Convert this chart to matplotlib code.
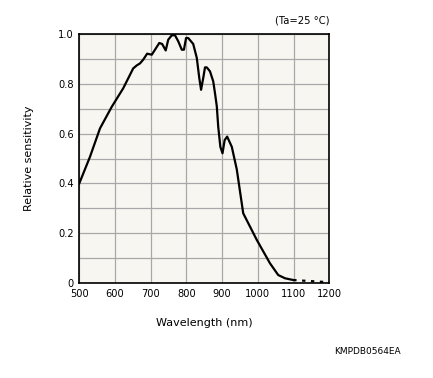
import numpy as np
import matplotlib
matplotlib.use("Agg")
import matplotlib.pyplot as plt

# spectral response (nm, relative sensitivity)
wavelength = [500, 530, 558, 591, 623, 637, 651, 661, 670, 679, 690, 703, 712,
              724, 732, 742, 749, 759, 768, 777, 787, 793, 799, 805, 819, 829,
              836, 841, 847, 852, 857, 866, 875, 880, 885, 889, 895, 901, 907,
              914, 927, 941, 959, 997, 1034, 1057, 1076, 1099]
sensitivity = [0.40, 0.507, 0.621, 0.708, 0.782, 0.822, 0.862, 0.874, 0.882,
               0.897, 0.921, 0.917, 0.937, 0.964, 0.960, 0.934, 0.977, 0.995,
               0.995, 0.971, 0.937, 0.937, 0.984, 0.984, 0.960, 0.904, 0.823,
               0.776, 0.823, 0.866, 0.866, 0.850, 0.81, 0.762, 0.71, 0.628,
               0.547, 0.521, 0.574, 0.588, 0.547, 0.456, 0.28, 0.173, 0.079,
               0.032, 0.019, 0.012]
tail_wl = [1099, 1200]
tail_val = [0.012, 0.003]

xticks = [500, 600, 700, 800, 900, 1000, 1100, 1200]
yticks = [0, 0.2, 0.4, 0.6, 0.8, 1.0]
ytick_labels = ["0", "0.2", "0.4", "0.6", "0.8", "1.0"]

fig = plt.figure(figsize=(4.33, 3.78), dpi=100)
ax = fig.add_axes([0.1831, 0.2513, 0.5774, 0.6587])
ax.set_facecolor("#f7f6f0")

ax.plot(wavelength, sensitivity, color="black", lw=1.6, solid_joinstyle="round")
ax.plot(tail_wl, tail_val, color="black", lw=1.6, ls=(0, (1.5, 2.5)))

ax.set_xlim(500, 1200)
ax.set_ylim(0, 1.0)
ax.set_xticks(xticks)
ax.set_yticks(yticks)
ax.set_yticklabels(ytick_labels)
ax.set_yticks(np.arange(0.1, 1.0, 0.2), minor=True)
ax.grid(True, which="both", color="#a8a8a8", lw=0.9)
ax.tick_params(which="both", length=0, labelsize=7.1, pad=4)
for s in ax.spines.values():
    s.set_linewidth(1.2)

ax.set_xlabel("Wavelength (nm)", fontsize=8, labelpad=14)
ax.set_ylabel("Relative sensitivity", fontsize=8, labelpad=17)
ax.text(1.0, 1.035, "(Ta=25 °C)", transform=ax.transAxes, ha="right",
        va="bottom", fontsize=7.2)
fig.text(0.925, 0.07, "KMPDB0564EA", ha="right", va="center", fontsize=6.5)

fig.savefig("out.png", dpi=100)
